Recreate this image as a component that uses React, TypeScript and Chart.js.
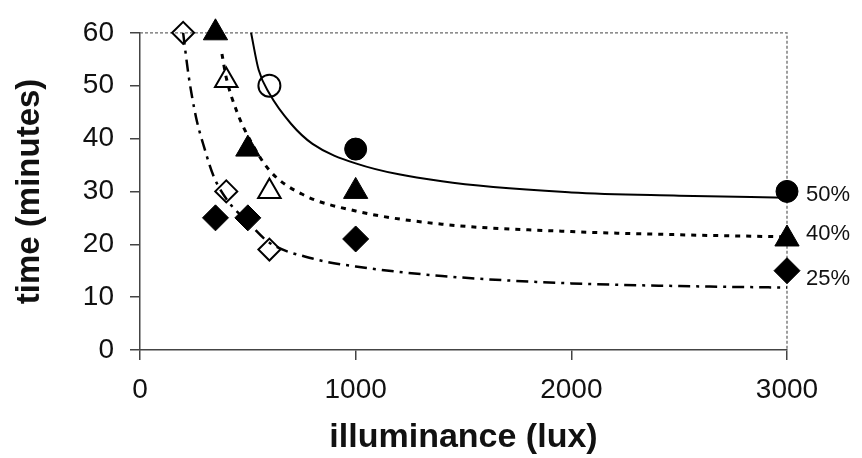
import React, { useEffect, useRef } from 'react';
import { Chart, registerables } from 'chart.js';

Chart.register(...registerables);

// Axis ranges / ticks
const xMin = 0;
const xMax = 3000;
const xStep = 1000;
const yMin = 0;
const yMax = 60;
const yStep = 10;

// 50 % series (circles + solid fitted curve)
const filled50X = [1000, 3000];
const filled50Y = [38, 30];
const open50X = [600];
const open50Y = [50];
const curve50X = [515, 550, 600, 700, 800, 1000, 1400, 2000, 2500, 3000];
const curve50Y = [60, 53, 48.5, 42.8, 39, 35.3, 31.9, 29.8, 29.2, 28.8];

// 40 % series (triangles + dotted fitted curve)
const filled40X = [350, 500, 1000, 3000];
const filled40Y = [60, 38, 30, 21];
const open40X = [400, 600];
const open40Y = [51, 30];
const curve40X = [380, 400, 450, 500, 600, 750, 1000, 1400, 2000, 2500, 3000];
const curve40Y = [56, 51.5, 45, 40.5, 34, 29.5, 26.3, 23.8, 22.4, 21.8, 21.4];

// 25 % series (diamonds + dash-dot fitted curve)
const filled25X = [350, 500, 1000, 3000];
const filled25Y = [25, 25, 21, 15];
const open25X = [200, 400, 600];
const open25Y = [60, 30, 19];
const curve25X = [200, 225, 260, 300, 340, 400, 500, 600, 800, 1000, 1400, 2000, 2500, 3000];
const curve25Y = [60, 52, 44, 38, 33, 28.6, 24.2, 20.3, 17.3, 15.8, 14, 12.6, 12.1, 11.8];

// end-of-curve labels
const seriesLabels = ['50%', '40%', '25%'];
const seriesLabelValues = [29.3, 22, 13.5];

const xTitle = 'illuminance (lux)';
const yTitle = 'time (minutes)';

const FONT = '"Liberation Sans", Arial, Helvetica, sans-serif';

const pts = (xs: number[], ys: number[]) => xs.map((x, i) => ({ x, y: ys[i] }));

const framePlugin = {
  id: 'frame',
  beforeDatasetsDraw(chart: any) {
    const { ctx, chartArea } = chart;
    const { left, right, top, bottom } = chartArea;
    ctx.save();
    ctx.strokeStyle = '#6a6a6a';
    ctx.lineWidth = 1.3;
    ctx.setLineDash([3, 2]);
    ctx.beginPath();
    ctx.moveTo(left, top);
    ctx.lineTo(right, top);
    ctx.lineTo(right, bottom);
    ctx.stroke();
    ctx.restore();
  },
  afterDatasetsDraw(chart: any) {
    const { ctx } = chart;
    const xs = chart.scales.x;
    const ys = chart.scales.y;
    ctx.save();
    ctx.fillStyle = '#111';
    ctx.font = `22px ${FONT}`;
    ctx.textAlign = 'left';
    ctx.textBaseline = 'middle';
    const xp = xs.getPixelForValue(xMax) + 19;
    seriesLabels.forEach((t, i) => {
      ctx.fillText(t, xp, ys.getPixelForValue(seriesLabelValues[i]));
    });
    ctx.restore();
  },
};

export default function App() {
  const ref = useRef<HTMLCanvasElement | null>(null);

  useEffect(() => {
    document.body.style.margin = '0';
    const canvas = ref.current;
    if (!canvas) return;

    const marker = (data: any, style: string, radius: number, filled: boolean) => ({
      data,
      showLine: false,
      pointStyle: style,
      pointRadius: radius,
      pointHoverRadius: radius,
      pointBackgroundColor: filled ? '#000' : 'rgba(0,0,0,0)',
      pointBorderColor: '#000',
      pointBorderWidth: filled ? 1 : 2,
      clip: false,
    });

    const curve = (data: any, dash: number[], width: number) => ({
      data,
      showLine: true,
      pointRadius: 0,
      pointHoverRadius: 0,
      borderColor: '#000',
      borderWidth: width,
      borderDash: dash,
      cubicInterpolationMode: 'monotone',
      fill: false,
      clip: false,
    });

    const chart = new Chart(canvas, {
      type: 'scatter',
      data: {
        datasets: [
          marker(pts(filled50X, filled50Y), 'circle', 11, true),
          marker(pts(open50X, open50Y), 'circle', 11, false),
          marker(pts(filled40X, filled40Y), 'triangle', 14, true),
          marker(pts(open40X, open40Y), 'triangle', 13, false),
          marker(pts(filled25X, filled25Y), 'rectRot', 13, true),
          marker(pts(open25X, open25Y), 'rectRot', 11, false),
          curve(pts(curve50X, curve50Y), [], 2),
          curve(pts(curve40X, curve40Y), [5, 6], 3),
          curve(pts(curve25X, curve25Y), [12, 6, 3, 6], 2.5),
        ] as any,
      },
      options: {
        responsive: false,
        animation: false,
        events: [],
        layout: { padding: { left: 0, right: 75, top: 29, bottom: 0 } },
        plugins: {
          legend: { display: false },
          tooltip: { enabled: false },
        },
        scales: {
          x: {
            type: 'linear',
            min: xMin,
            max: xMax,
            afterFit: (s: any) => {
              s.height = 108;
            },
            ticks: {
              stepSize: xStep,
              color: '#111',
              font: { family: FONT, size: 28 },
              padding: 13,
              callback: (v: any) => String(v),
            },
            grid: {
              display: true,
              drawOnChartArea: false,
              drawTicks: true,
              tickLength: 10,
              color: '#444',
              lineWidth: 1.5,
            },
            border: { display: true, color: '#444', width: 1.5 },
            title: {
              display: true,
              text: xTitle,
              color: '#111',
              font: { family: FONT, size: 34, weight: 'bold', lineHeight: 1 },
              padding: { top: 0, bottom: 3 },
            },
          },
          y: {
            type: 'linear',
            min: yMin,
            max: yMax,
            afterFit: (s: any) => {
              s.width = 140;
            },
            ticks: {
              stepSize: yStep,
              color: '#111',
              font: { family: FONT, size: 28 },
              padding: 16,
            },
            grid: {
              display: true,
              drawOnChartArea: false,
              drawTicks: true,
              tickLength: 10,
              color: '#444',
              lineWidth: 1.5,
            },
            border: { display: true, color: '#444', width: 1.5 },
            title: {
              display: true,
              text: yTitle,
              color: '#111',
              font: { family: FONT, size: 33, weight: 'bold', lineHeight: 1 },
              padding: { top: 13, bottom: 0 },
            },
          },
        },
      } as any,
      plugins: [framePlugin],
    });

    return () => chart.destroy();
  }, []);

  return (
    <div style={{ width: 862, height: 458, position: 'relative' }}>
      <canvas ref={ref} width={862} height={458} style={{ display: 'block' }} />
    </div>
  );
}
